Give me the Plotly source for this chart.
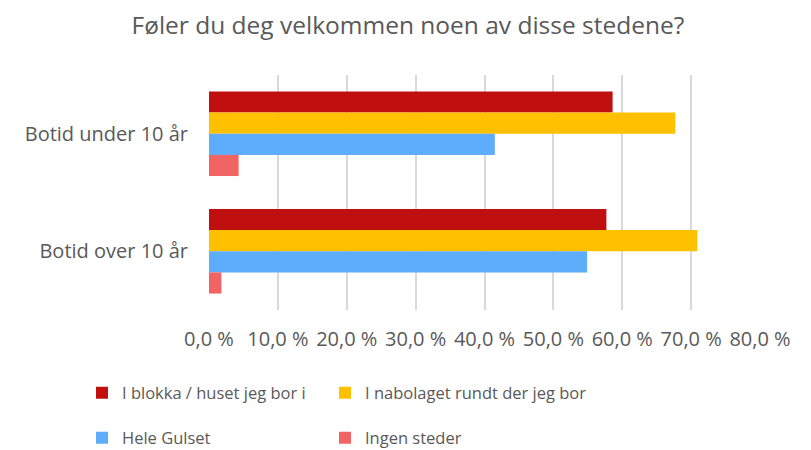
import plotly.graph_objects as go

categories = ["Botid under 10 år", "Botid over 10 år"]
series_names = ["I blokka / huset jeg bor i", "I nabolaget rundt der jeg bor", "Hele Gulset", "Ingen steder"]
series_values = [
    [58.6, 57.7],
    [67.7, 70.9],
    [41.5, 54.9],
    [4.3, 1.8],
]
colors = ["#C00F0F", "#FFC000", "#5EADFA", "#F26464"]
tick_vals = [0, 10, 20, 30, 40, 50, 60, 70, 80]
tick_text = ["0,0 %", "10,0 %", "20,0 %", "30,0 %", "40,0 %", "50,0 %", "60,0 %", "70,0 %", "80,0 %"]

FONT = "Open Sans"
GREY = "#595959"

legend_ids = ["legend", "legend2", "legend3", "legend4"]
legend_pos = [(82, 393), (325, 393), (82, 438), (325, 438)]

fig = go.Figure()
for name, vals, col, lid in zip(series_names, series_values, colors, legend_ids):
    fig.add_trace(go.Bar(
        y=categories, x=vals, name=name, orientation="h",
        marker=dict(color=col, line=dict(width=0)),
        legend=lid,
    ))

layout_legends = {}
for lid, (px, py) in zip(legend_ids, legend_pos):
    layout_legends[lid] = dict(
        orientation="h", xref="container", yref="container",
        x=px / 811, y=1 - py / 450, xanchor="left", yanchor="middle",
        font=dict(family=FONT, size=16.5, color=GREY), itemwidth=30,
        bgcolor="rgba(0,0,0,0)",
    )

fig.update_layout(
    width=811, height=450,
    margin=dict(l=208.5, r=51, t=75, b=140, autoexpand=False),
    paper_bgcolor="white", plot_bgcolor="white",
    title=dict(text="Føler du deg velkommen noen av disse stedene?", x=0.503, xanchor="center",
               y=1 - 25 / 450, yanchor="middle", font=dict(family=FONT, size=24.5, color=GREY)),
    barmode="group", bargap=0.28, bargroupgap=0,
    xaxis=dict(range=[0, 80], tickvals=tick_vals, ticktext=tick_text, showgrid=True,
               gridcolor="#D9D9D9", gridwidth=2, zeroline=False, showline=False,
               tickfont=dict(family=FONT, size=20, color=GREY), ticklabelstandoff=15,
               fixedrange=True),
    yaxis=dict(autorange="reversed", showgrid=False, showline=False, zeroline=False,
               tickfont=dict(family=FONT, size=20, color=GREY), ticklabelstandoff=20),
    showlegend=True,
    **layout_legends,
)

fig.write_html("out.html", config={"displayModeBar": False},
               post_script="document.body.style.margin='0';document.body.style.overflow='hidden';")
